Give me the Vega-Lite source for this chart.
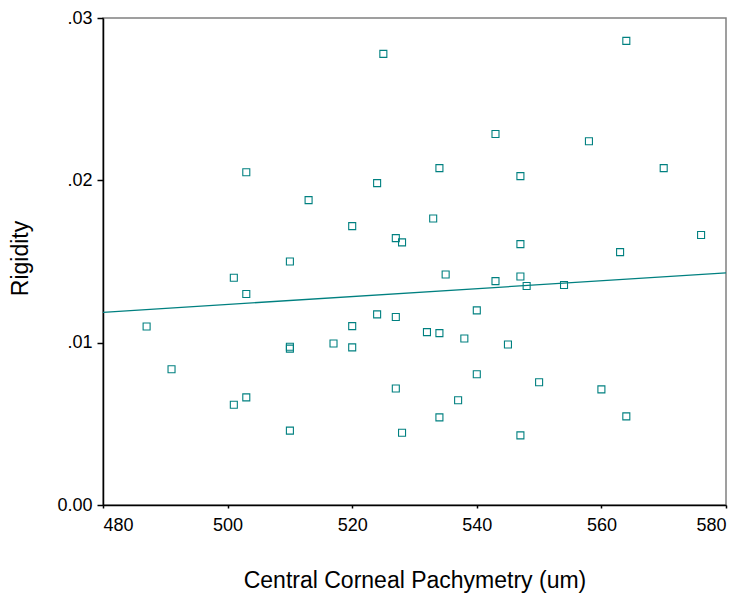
{
  "$schema": "https://vega.github.io/schema/vega-lite/v6.json",
  "autosize": "none",
  "width": 623,
  "height": 487,
  "padding": {"left": 103, "top": 18, "right": 17, "bottom": 88},
  "background": "white",
  "config": {
    "view": {"stroke": "#808080", "strokeWidth": 1.5},
    "font": "Liberation Sans"
  },
  "datasets": {
    "pts": [
      {"ccp": 487, "rigidity": 0.0110},
      {"ccp": 491, "rigidity": 0.00836},
      {"ccp": 501, "rigidity": 0.0140},
      {"ccp": 503, "rigidity": 0.0130},
      {"ccp": 503, "rigidity": 0.0205},
      {"ccp": 501, "rigidity": 0.00618},
      {"ccp": 503, "rigidity": 0.00663},
      {"ccp": 510, "rigidity": 0.0150},
      {"ccp": 510, "rigidity": 0.00975},
      {"ccp": 510, "rigidity": 0.00963},
      {"ccp": 510, "rigidity": 0.00458},
      {"ccp": 513, "rigidity": 0.01878},
      {"ccp": 517, "rigidity": 0.00995},
      {"ccp": 520, "rigidity": 0.01718},
      {"ccp": 520, "rigidity": 0.01102},
      {"ccp": 520, "rigidity": 0.00971},
      {"ccp": 524, "rigidity": 0.01983},
      {"ccp": 524, "rigidity": 0.01174},
      {"ccp": 525, "rigidity": 0.02779},
      {"ccp": 527, "rigidity": 0.01644},
      {"ccp": 528, "rigidity": 0.01618},
      {"ccp": 527, "rigidity": 0.01158},
      {"ccp": 527, "rigidity": 0.00718},
      {"ccp": 528, "rigidity": 0.00445},
      {"ccp": 532, "rigidity": 0.01065},
      {"ccp": 533, "rigidity": 0.01765},
      {"ccp": 534, "rigidity": 0.02075},
      {"ccp": 534, "rigidity": 0.01059},
      {"ccp": 534, "rigidity": 0.00540},
      {"ccp": 535, "rigidity": 0.01420},
      {"ccp": 537, "rigidity": 0.00645},
      {"ccp": 538, "rigidity": 0.01026},
      {"ccp": 540, "rigidity": 0.01199},
      {"ccp": 540, "rigidity": 0.00805},
      {"ccp": 543, "rigidity": 0.02285},
      {"ccp": 543, "rigidity": 0.01379},
      {"ccp": 545, "rigidity": 0.00989},
      {"ccp": 547, "rigidity": 0.02026},
      {"ccp": 547, "rigidity": 0.01607},
      {"ccp": 547, "rigidity": 0.01408},
      {"ccp": 548, "rigidity": 0.01349},
      {"ccp": 547, "rigidity": 0.00429},
      {"ccp": 550, "rigidity": 0.00756},
      {"ccp": 554, "rigidity": 0.01355},
      {"ccp": 558, "rigidity": 0.02241},
      {"ccp": 560, "rigidity": 0.00712},
      {"ccp": 563, "rigidity": 0.01558},
      {"ccp": 564, "rigidity": 0.02859},
      {"ccp": 564, "rigidity": 0.00546},
      {"ccp": 570, "rigidity": 0.02075},
      {"ccp": 576, "rigidity": 0.01663}
    ],
    "fit": [
      {"ccp": 480, "rigidity": 0.01187},
      {"ccp": 580, "rigidity": 0.01430}
    ]
  },
  "encoding": {
    "x": {
      "field": "ccp",
      "type": "quantitative",
      "scale": {"domain": [480, 580], "nice": false, "zero": false},
      "axis": {
        "title": "Central Corneal Pachymetry (um)",
        "values": [480, 500, 520, 540, 560, 580],
        "grid": false,
        "domainColor": "#000000",
        "domainWidth": 1.5,
        "tickColor": "#000000",
        "tickWidth": 1.5,
        "tickSize": 3,
        "labelFontSize": 18,
        "labelColor": "#000000",
        "labelPadding": 8,
        "labelFont": "Liberation Sans",
        "titleFont": "Liberation Sans",
        "titleFontSize": 23,
        "titleFontWeight": "normal",
        "titleColor": "#000000",
        "titleBaseline": "alphabetic",
        "titleY": 82
      }
    },
    "y": {
      "field": "rigidity",
      "type": "quantitative",
      "scale": {"domain": [0, 0.03], "nice": false},
      "axis": {
        "title": "Rigidity",
        "values": [0, 0.01, 0.02, 0.03],
        "labelExpr": "datum.value == 0 ? '0.00' : substring(format(datum.value, '.2f'), 1)",
        "grid": false,
        "domainColor": "#000000",
        "domainWidth": 1.5,
        "tickColor": "#000000",
        "tickWidth": 1.5,
        "tickSize": 6,
        "labelFontSize": 18,
        "labelColor": "#000000",
        "labelPadding": 5,
        "labelFont": "Liberation Sans",
        "titleFont": "Liberation Sans",
        "titleFontSize": 23,
        "titleFontWeight": "normal",
        "titleColor": "#000000",
        "titleAngle": -90,
        "titleBaseline": "alphabetic",
        "titleAlign": "center",
        "titleX": -76,
        "titleY": 240
      }
    }
  },
  "layer": [
    {
      "data": {"name": "fit"},
      "mark": {"type": "line", "color": "#008080", "strokeWidth": 1.3},
      "encoding": {}
    },
    {
      "data": {"name": "pts"},
      "mark": {"type": "point", "shape": "square", "filled": false, "color": "#008080", "size": 49, "strokeWidth": 1.1, "opacity": 1}
    }
  ]
}
